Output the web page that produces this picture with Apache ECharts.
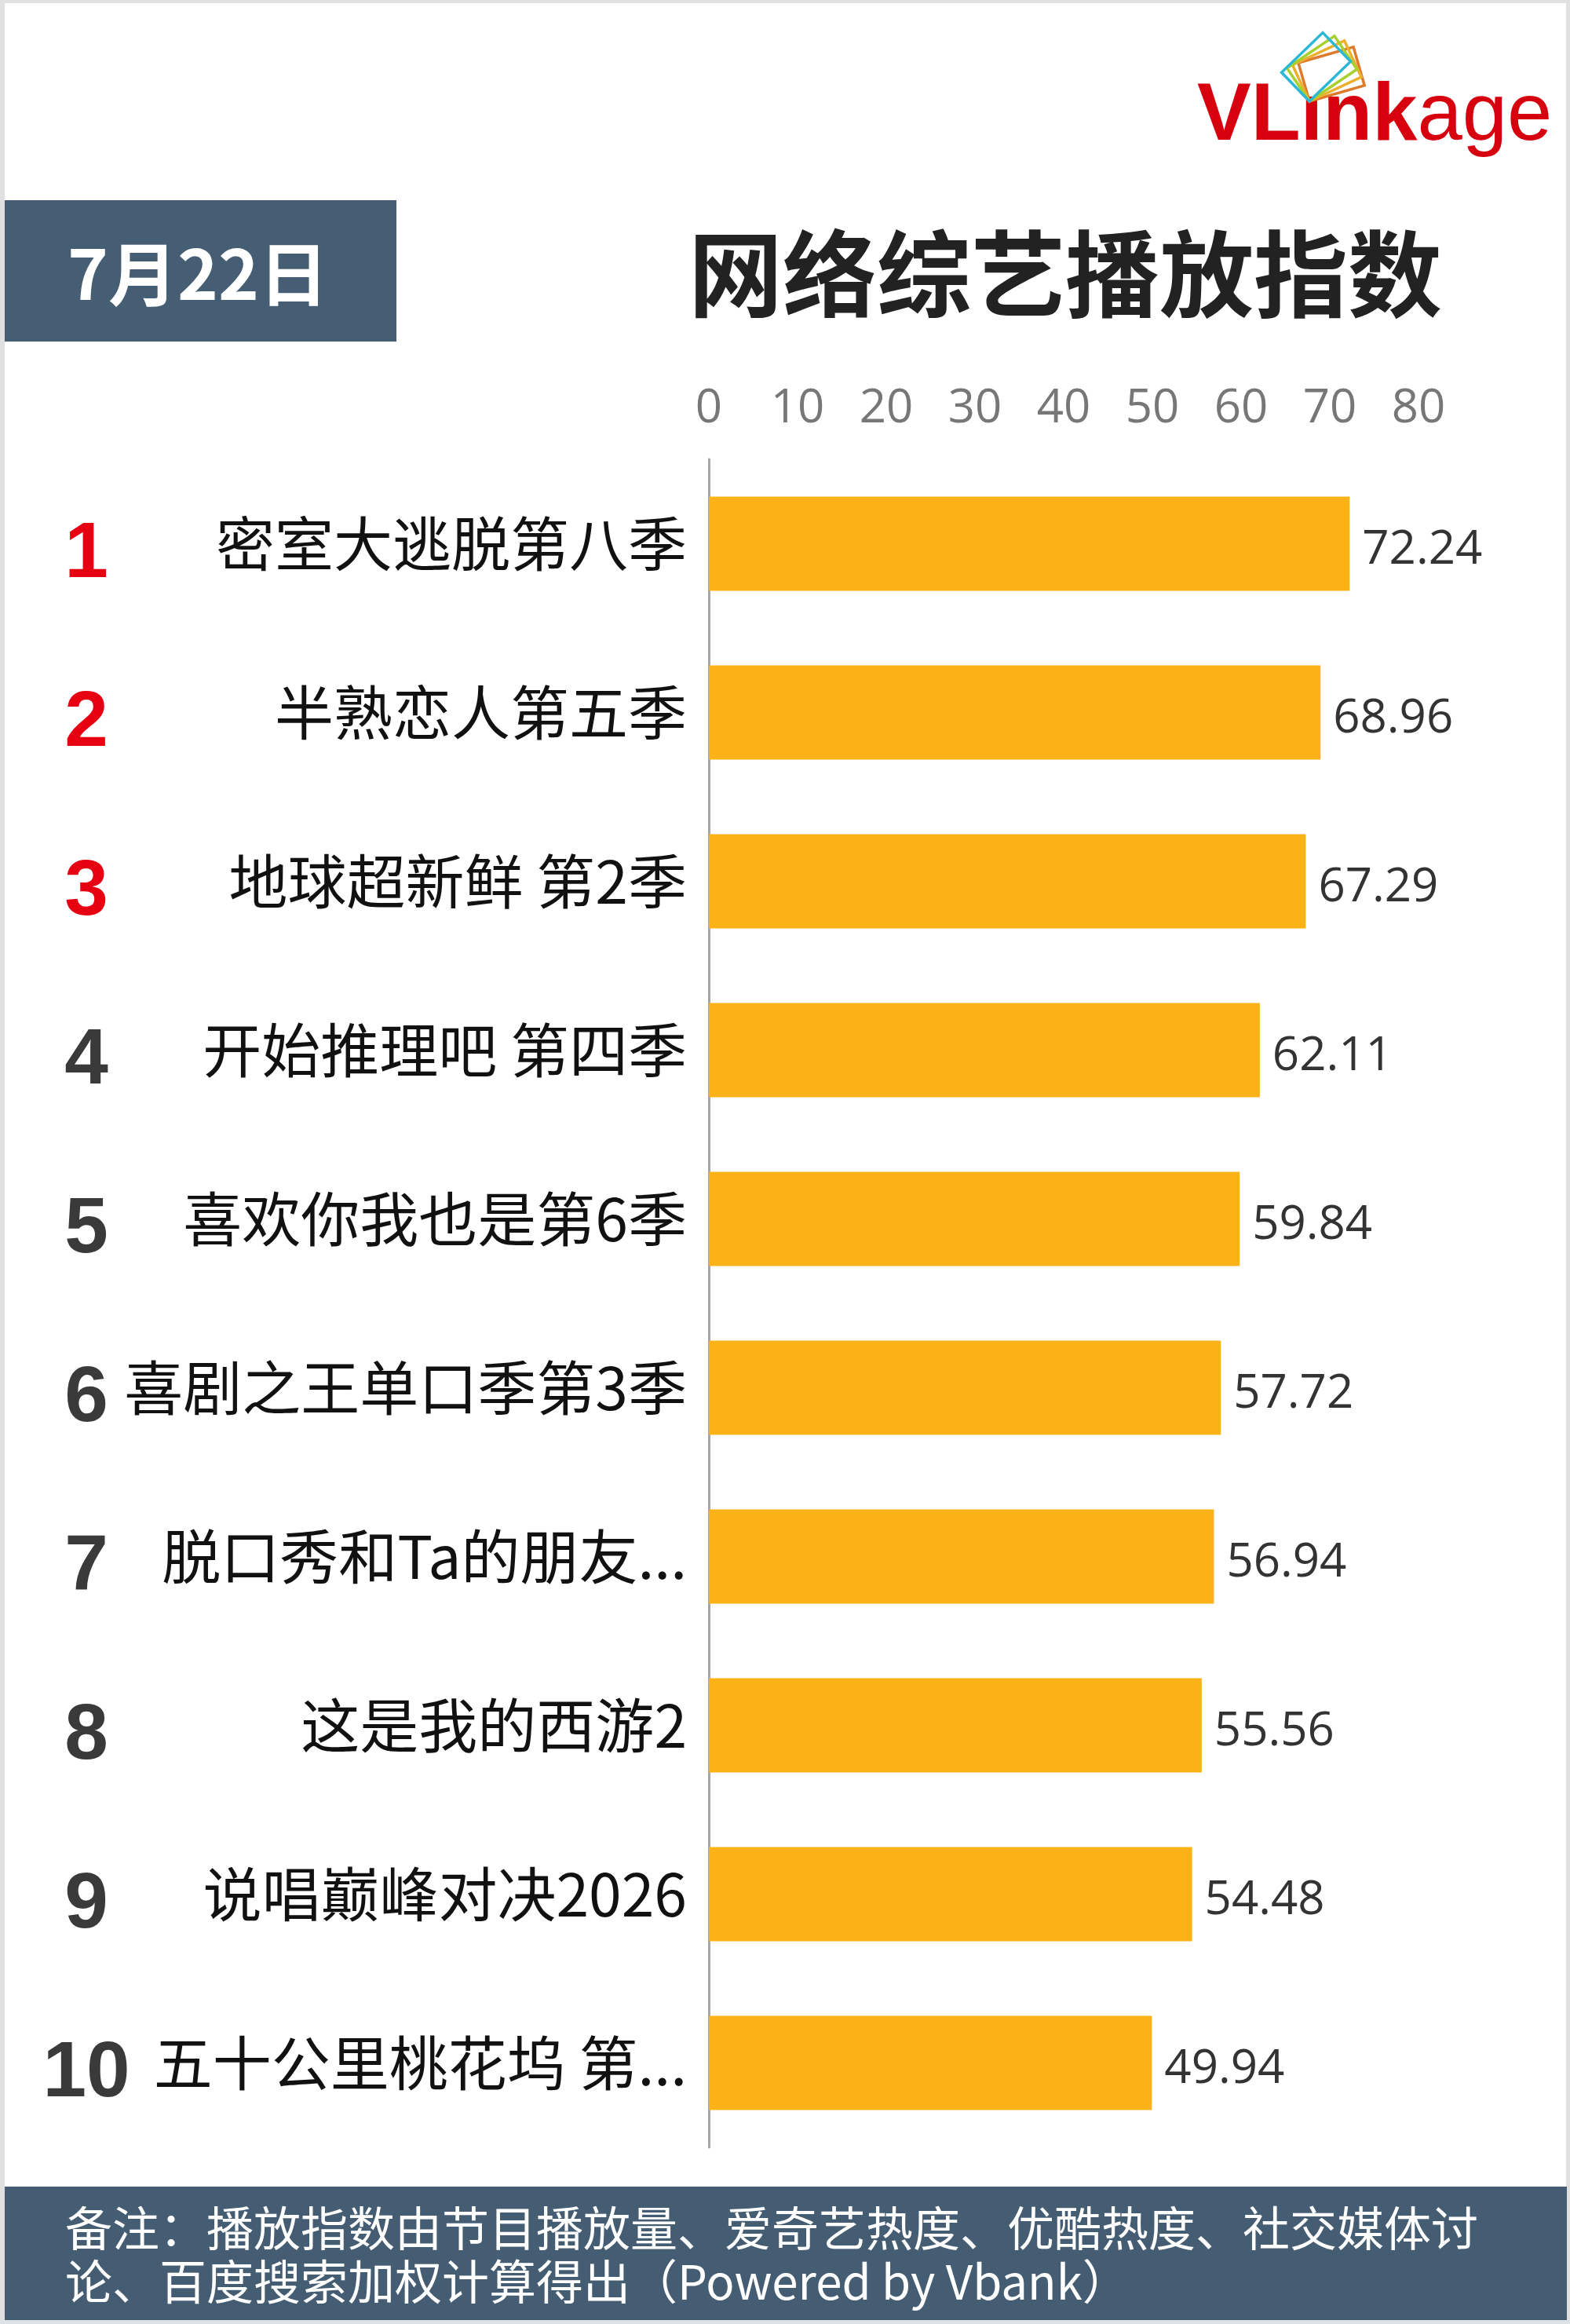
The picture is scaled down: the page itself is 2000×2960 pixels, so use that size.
<!DOCTYPE html>
<html>
<head>
<meta charset="utf-8">
<script src="https://cdn.jsdelivr.net/npm/echarts@6/dist/echarts.min.js"></script>
<style>
html,body{margin:0;padding:0;background:#ffffff;}
#main{width:2000px;height:2960px;}
</style>
</head>
<body>
<div id="main"></div>
<script>
// ---- data ----
const categories = [
  '密室大逃脱第八季',
  '半熟恋人第五季',
  '地球超新鲜 第2季',
  '开始推理吧 第四季',
  '喜欢你我也是第6季',
  '喜剧之王单口季第3季',
  '脱口秀和Ta的朋友...',
  '这是我的西游2',
  '说唱巅峰对决2026',
  '五十公里桃花坞 第...'
];
const values = [72.24, 68.96, 67.29, 62.11, 59.84, 57.72, 56.94, 55.56, 54.48, 49.94];
const ranks = ['1', '2', '3', '4', '5', '6', '7', '8', '9', '10'];
const xTicks = [0, 10, 20, 30, 40, 50, 60, 70, 80];
const dateText = '7月22日';
const titleText = '网络综艺播放指数';
const noteLines = [
  '备注：播放指数由节目播放量、爱奇艺热度、优酷热度、社交媒体讨',
  '论、百度搜索加权计算得出（Powered by Vbank）'
];

const CJK = '"Noto Sans CJK SC", "Noto Sans", sans-serif';
const NUM = '"Open Sans", "Noto Sans", sans-serif';
const ARIAL = '"Liberation Sans", Arial, sans-serif';

const chart = echarts.init(document.getElementById('main'), null, {renderer: 'canvas'});

const iconRects = [
  {deg: 16, color: '#DE7A2A'},
  {deg: 25, color: '#EAB02E'},
  {deg: 34, color: '#A6D12C'},
  {deg: 44, color: '#2DB7D6'}
];

const graphics = [
  // light gray frame
  {type: 'rect', shape: {x: 0, y: 0, width: 2000, height: 4}, style: {fill: '#e0e0e0'}},
  {type: 'rect', shape: {x: 0, y: 0, width: 6, height: 2960}, style: {fill: '#e0e0e0'}},
  {type: 'rect', shape: {x: 1995, y: 0, width: 5, height: 2960}, style: {fill: '#e0e0e0'}},
  {type: 'rect', shape: {x: 0, y: 2955, width: 2000, height: 5}, style: {fill: '#dde2e5'}},
  // date box
  {type: 'rect', shape: {x: 6, y: 255, width: 499, height: 180}, style: {fill: '#465E74'}},
  {type: 'text', x: 252, y: 349, style: {text: dateText, fill: '#ffffff', fontSize: 88, fontWeight: 'bold', fontFamily: CJK, align: 'center', verticalAlign: 'middle'}},
  // title
  {type: 'text', x: 877, y: 349, style: {text: titleText, fill: '#222222', fontSize: 120, fontWeight: 'bold', fontFamily: CJK, align: 'left', verticalAlign: 'middle'}},
  // footer
  {type: 'rect', shape: {x: 6, y: 2785, width: 1990, height: 170}, style: {fill: '#455D73'}},
  {type: 'text', x: 83, y: 2838, style: {text: noteLines[0], fill: '#ffffff', fontSize: 60, fontFamily: CJK, align: 'left', verticalAlign: 'middle'}},
  {type: 'text', x: 83, y: 2906, style: {text: noteLines[1], fill: '#ffffff', fontSize: 60, fontFamily: CJK, align: 'left', verticalAlign: 'middle'}},
  // logo text
  {type: 'text', x: 1525, y: 150, style: {
    text: '{b|VLınk}{r|age}', align: 'left', verticalAlign: 'middle',
    rich: {
      b: {fontSize: 103, fontWeight: 'bold', fontFamily: ARIAL, fill: '#D7000F', color: '#D7000F'},
      r: {fontSize: 103, fontWeight: 'normal', fontFamily: ARIAL, fill: '#D7000F', color: '#D7000F'}
    }
  }}
];
iconRects.forEach(function (r) {
  graphics.push({
    type: 'rect', x: 1668, y: 129, rotation: r.deg * Math.PI / 180,
    shape: {x: 0, y: -51, width: 73, height: 51},
    style: {fill: 'none', stroke: r.color, lineWidth: 3.5}
  });
});

const option = {
  backgroundColor: '#ffffff',
  animation: false,
  grid: {left: 903, top: 585, width: 904, height: 2150, containLabel: false},
  xAxis: {
    type: 'value',
    position: 'top',
    min: xTicks[0],
    max: xTicks[xTicks.length - 1],
    interval: xTicks[1] - xTicks[0],
    axisLine: {show: false},
    axisTick: {show: false},
    splitLine: {show: false},
    axisLabel: {color: '#777777', fontSize: 60, fontFamily: NUM, margin: 34}
  },
  yAxis: [
    {
      type: 'category',
      inverse: true,
      data: categories,
      axisLine: {show: true, lineStyle: {color: '#a6a6a6', width: 3}},
      axisTick: {show: false},
      axisLabel: {color: '#111111', fontSize: 75, fontFamily: CJK, margin: 28}
    },
    {
      type: 'category',
      inverse: true,
      data: ranks,
      position: 'left',
      axisLine: {show: false},
      axisTick: {show: false},
      axisLabel: {
        margin: 793,
        align: 'center',
        formatter: function (v, i) { return (i < 3 ? '{red|' : '{dark|') + v + '}'; },
        rich: {
          red: {color: '#E60012', fontSize: 100, fontWeight: 'bold', fontFamily: ARIAL, padding: [30, 0, 0, 0]},
          dark: {color: '#3a3a3a', fontSize: 100, fontWeight: 'bold', fontFamily: ARIAL, padding: [30, 0, 0, 0]}
        }
      }
    }
  ],
  series: [{
    type: 'bar',
    yAxisIndex: 0,
    data: values,
    barWidth: 120,
    itemStyle: {color: '#FBB216'},
    label: {
      show: true,
      position: 'right',
      distance: 16,
      offset: [0, 8],
      color: '#333333',
      fontSize: 60,
      fontFamily: NUM,
      formatter: function (p) { return values[p.dataIndex].toFixed(2); }
    }
  }],
  graphic: graphics
};
chart.setOption(option);
</script>
</body>
</html>
